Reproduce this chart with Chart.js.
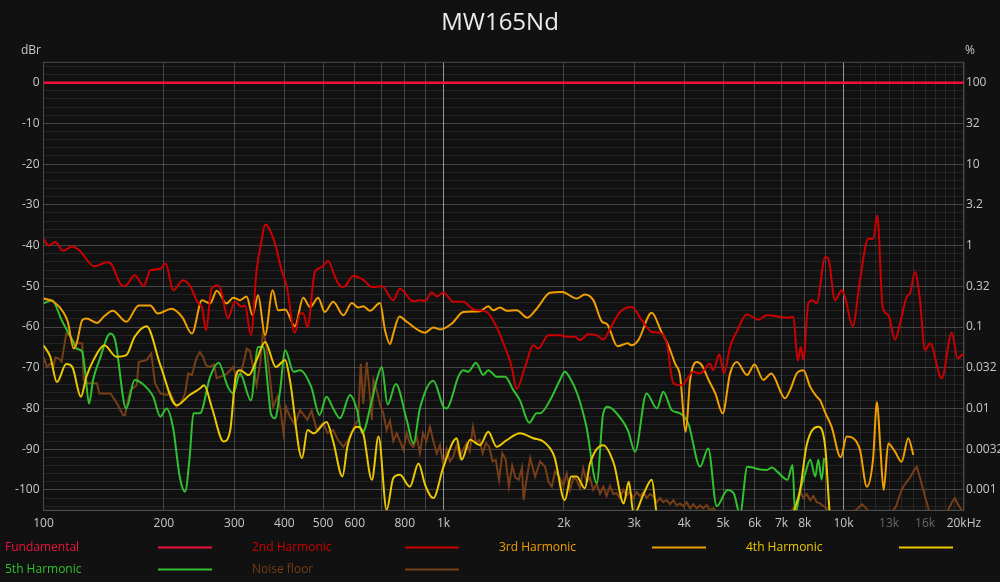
<!DOCTYPE html>
<html>
<head>
<meta charset="utf-8">
<title>MW165Nd</title>
<script src="https://cdn.jsdelivr.net/npm/chart.js@4.4.0/dist/chart.umd.min.js"></script>
<style>
  html, body { margin: 0; padding: 0; background: #111111; }
  #wrap { width: 1000px; height: 582px; }
</style>
</head>
<body>
<div id="wrap"><canvas id="chart" width="1000" height="582"></canvas></div>
<script>
// --- data (freq Hz, dBr) ---
var fundamental = [[100, 0], [20000, 0]];

var harm2 = [[100,-38.3],[103,-40],[107,-39.1],[112,-41.3],[118,-40.2],[123,-41.2],[134,-45.1],[144,-44.1],[147,-44.3],[157,-49.8],[160,-49.9],[169,-47.3],[178,-49.9],[185,-46.1],[196,-45.7],[202,-44.4],[211,-51],[223,-48.5],[232,-49.8],[244,-54.2],[249,-55.1],[255,-60.8],[263,-50.6],[274,-49.8],[279,-51.7],[289,-57.9],[301,-53.8],[313,-55],[319,-54.7],[330,-62],[341,-46.1],[351,-38.7],[358,-34.8],[365,-35.5],[379,-39.5],[394,-46.1],[406,-50.2],[425,-61.4],[438,-56.7],[446,-56.6],[457,-60],[477,-46.5],[496,-45.3],[515,-43.8],[530,-46.5],[543,-49],[562,-50.2],[595,-47.5],[630,-48.4],[662,-50.2],[701,-50],[749,-53.4],[778,-50.6],[841,-53.7],[873,-53.4],[900,-53.6],[934,-51.5],[962,-52.5],[1000,-51.5],[1058,-53.8],[1121,-53.8],[1187,-55.7],[1282,-56.3],[1345,-59.2],[1411,-63.9],[1481,-69.8],[1524,-75.2],[1599,-69.8],[1677,-64.5],[1726,-65.3],[1828,-62],[1956,-62],[2032,-62.4],[2132,-62.4],[2194,-63.2],[2301,-61.8],[2416,-62],[2509,-63.1],[2608,-60.4],[2762,-56.3],[2956,-55.1],[3131,-58.3],[3316,-61.2],[3478,-61.4],[3615,-64],[3755,-73.8],[3941,-74.3],[4213,-71],[4378,-71.4],[4638,-69],[4727,-70.6],[4892,-66.7],[5026,-71.4],[5203,-64.9],[5407,-61.2],[5730,-56.9],[6125,-58.2],[6429,-57.1],[7279,-57.7],[7492,-57.5],[7684,-68.3],[7818,-64.9],[7936,-68],[8167,-54.2],[8377,-53.4],[8570,-54.2],[9000,-42.8],[9162,-43.2],[9523,-53.4],[9897,-51],[10087,-52.6],[10544,-59.8],[10997,-48.5],[11534,-38.3],[11871,-38.3],[12148,-32.6],[12531,-55.1],[12942,-57.1],[13451,-63.1],[13843,-59.2],[14388,-52.6],[14664,-51.8],[15092,-46.5],[15533,-53.4],[15986,-65.7],[16453,-64],[17600,-72.6],[18645,-61.4],[19300,-67.7],[19750,-66.9],[20000,-66.5]];

var harm3 = [[100,-53],[106,-53.8],[112,-56.3],[115,-58.7],[119,-65.3],[121,-64],[125,-58.3],[128,-57.9],[136,-59],[142,-57.3],[149,-56],[161,-58.7],[173,-54.7],[185,-54.7],[193,-56.7],[209,-55.5],[222,-57.5],[235,-61.6],[249,-53.4],[261,-54.2],[271,-51.1],[287,-54.2],[298,-52.8],[310,-53.4],[322,-52.5],[333,-57.1],[344,-52.2],[358,-62],[374,-51],[386,-55.9],[402,-55.7],[425,-59.8],[446,-52.8],[464,-55.1],[486,-52.8],[505,-56.3],[530,-53.8],[562,-57.1],[590,-54.1],[612,-55.2],[630,-54.9],[655,-56],[694,-54.1],[714,-60.8],[735,-64.2],[749,-61.6],[776,-57.4],[809,-58.7],[900,-61.4],[943,-60.1],[980,-60.6],[1048,-59.2],[1121,-56.3],[1234,-56.1],[1294,-54.9],[1332,-55.9],[1384,-55.2],[1438,-56],[1524,-55.9],[1621,-57.7],[1710,-55.5],[1846,-51.6],[1980,-51.4],[2152,-53],[2257,-52],[2369,-53.4],[2491,-58.7],[2565,-59.3],[2721,-64.7],[2890,-64],[2946,-64.5],[3070,-63.2],[3316,-56.5],[3500,-61],[3649,-64.5],[3793,-69],[3904,-72],[4033,-85.7],[4136,-73],[4300,-68.6],[4425,-69.4],[4600,-73],[4782,-76.3],[4989,-81.2],[5203,-71.5],[5410,-68.6],[5740,-71.8],[5990,-69.2],[6305,-73],[6600,-71.4],[7142,-77.5],[7351,-75.5],[7640,-71.4],[7936,-70.6],[8257,-74.7],[8570,-77.1],[8740,-78],[9000,-81],[9340,-84.5],[9840,-92],[10186,-86.9],[10580,-87.3],[10997,-90.2],[11440,-99.2],[11850,-92.6],[12130,-78.4],[12360,-89.4],[12600,-100],[12940,-88.6],[13450,-90.6],[13970,-93.1],[14520,-87.3],[14950,-91.4]];

var harm4 = [[100,-64.5],[104,-67.3],[108,-73.5],[114,-69.1],[118,-69.8],[124,-77.1],[128,-72.2],[134,-67.7],[142,-64.5],[152,-67.3],[161,-66.9],[169,-62.4],[181,-59.8],[196,-69.4],[215,-79.2],[232,-76.7],[246,-75.1],[252,-74.3],[264,-80],[282,-88.1],[293,-85.3],[302,-72.5],[310,-70.6],[326,-71.8],[341,-68.1],[358,-63.7],[381,-69.8],[402,-68.1],[413,-73],[443,-92.2],[457,-85.3],[474,-86.1],[510,-83.3],[530,-88.1],[559,-96.7],[575,-89.4],[608,-84.5],[630,-86.1],[662,-97.5],[688,-86.9],[721,-104.9],[749,-97.1],[778,-96.3],[824,-99.2],[866,-93.5],[900,-98.8],[943,-102],[1000,-94.3],[1079,-87.3],[1110,-92.6],[1165,-87.7],[1234,-89],[1294,-85.7],[1358,-89.4],[1438,-87.8],[1553,-86.1],[1676,-87.3],[1776,-88.1],[1893,-91.8],[2010,-102.5],[2085,-96.7],[2152,-96.7],[2257,-99.6],[2324,-93.5],[2508,-89],[2666,-93.5],[2822,-103.3],[2905,-98],[2990,-106],[3170,-100.8],[3316,-97.5],[3415,-106],[3580,-110],[7300,-110],[7480,-106],[7790,-100],[8090,-89],[8650,-84.5],[9000,-89.4],[9250,-106],[9600,-110]];

var harm5 = [[100,-54.2],[105,-53.4],[111,-58.3],[118,-63.2],[121,-65.3],[125,-66.1],[127,-70.6],[130,-78.8],[133,-73],[138,-68.1],[147,-61.6],[151,-63.2],[161,-80],[169,-73],[176,-73.8],[188,-77.1],[196,-82],[203,-80],[211,-84.9],[219,-96.7],[226,-100.4],[232,-91.8],[237,-81.2],[246,-81.2],[261,-72.2],[274,-68.8],[289,-74.7],[298,-76.3],[310,-71.4],[330,-78],[344,-64.9],[354,-64.9],[364,-74.7],[370,-81.2],[379,-82.4],[390,-76],[402,-65.7],[422,-71],[438,-70.6],[467,-74.7],[490,-81.6],[510,-77.1],[530,-80],[551,-82.4],[584,-76.7],[608,-80.4],[626,-86.1],[662,-78],[681,-73],[701,-69.8],[725,-79],[760,-74],[809,-82.8],[841,-88.6],[873,-80],[943,-73.2],[1000,-79.6],[1019,-80],[1038,-78.7],[1089,-72.2],[1121,-70.6],[1153,-71],[1206,-68.8],[1257,-71.8],[1294,-70.6],[1358,-72.2],[1425,-72.2],[1495,-75.5],[1553,-78],[1638,-83.5],[1710,-81.2],[1743,-81.2],[1846,-78],[1955,-73],[2010,-71],[2071,-72.5],[2166,-76.7],[2277,-84.5],[2416,-98.3],[2508,-81.2],[2575,-79.6],[2710,-81.2],[2890,-85.3],[3012,-90.6],[3218,-76.3],[3415,-80],[3545,-75.9],[3720,-80.4],[3904,-81.2],[4094,-83.7],[4381,-94.3],[4590,-89.8],[4820,-104],[5130,-100],[5325,-101],[5510,-106],[5750,-94.3],[5980,-94.6],[6190,-95],[6430,-95.1],[6630,-94.5],[6830,-95.5],[7240,-97.5],[7460,-93.9],[7570,-106],[7818,-99.6],[8020,-96],[8257,-92.6],[8500,-96.7],[8650,-92.6],[8820,-97.5],[8940,-92.2]];

var noiseFloor = [[100,-67.3],[102,-69.8],[104,-69],[106,-69.6],[107,-67.5],[109,-67.7],[111,-68.5],[114,-61.6],[116,-62],[120,-64],[125,-64],[126,-73],[129,-73.8],[136,-73.8],[138,-76.3],[147,-76.3],[152,-78.4],[158,-81.6],[160,-81.6],[161,-80],[165,-75.5],[171,-74.3],[173,-68.6],[181,-68.1],[186,-66.5],[190,-73.8],[196,-76.3],[203,-76.7],[207,-76],[215,-79.6],[220,-78.8],[226,-76.3],[230,-71.4],[235,-71.8],[241,-67.7],[246,-66.1],[251,-67.5],[255,-69.4],[260,-69.8],[267,-69.2],[271,-72.6],[287,-71.5],[298,-69.8],[302,-71.5],[310,-72],[319,-67.3],[322,-65.3],[328,-65.8],[335,-70.2],[341,-74.3],[348,-69],[354,-60.8],[361,-64.9],[368,-72.2],[375,-79.6],[385,-77],[391,-80],[398,-86.1],[404,-79.6],[413,-82],[425,-84],[438,-80.4],[457,-82.8],[468,-80.5],[482,-85.3],[500,-83.5],[513,-86],[530,-85.3],[543,-87.5],[562,-89.4],[584,-87],[601,-84],[612,-82.8],[621,-69],[630,-78.8],[643,-68.6],[652,-74.7],[662,-82.8],[668,-73],[681,-75.5],[694,-79],[707,-81.2],[721,-85.3],[735,-83],[749,-88],[764,-86.1],[778,-88],[794,-90.2],[809,-86],[824,-88.5],[841,-89.4],[857,-87],[873,-91],[889,-86],[906,-88],[925,-84.5],[943,-88],[962,-91],[980,-89],[1000,-94.3],[1019,-90],[1038,-93],[1058,-91.8],[1078,-89],[1099,-92],[1120,-90],[1141,-88.6],[1163,-90.5],[1185,-84.5],[1207,-88.5],[1230,-87.7],[1253,-91],[1277,-88.5],[1301,-89.4],[1326,-93],[1351,-92.6],[1377,-97.5],[1403,-91],[1430,-92.5],[1457,-99.2],[1485,-94],[1513,-97],[1542,-97.5],[1571,-94.5],[1586,-102.5],[1616,-97],[1647,-92.2],[1695,-96.7],[1744,-93],[1795,-94.3],[1830,-98],[1865,-99.2],[1901,-95.5],[1956,-97],[1994,-99],[2032,-96],[2071,-100],[2111,-97],[2151,-97.5],[2194,-99.5],[2236,-94.7],[2279,-98],[2323,-97],[2368,-100],[2416,-98.5],[2462,-101],[2509,-99.2],[2557,-101.5],[2608,-99],[2658,-101],[2708,-100.8],[2762,-102],[2815,-100],[2869,-101.5],[2925,-100.5],[2981,-102],[3042,-100.5],[3101,-101.5],[3160,-100.5],[3221,-102],[3283,-101],[3346,-101.6],[3411,-103],[3478,-102],[3545,-103],[3615,-102.5],[3684,-103.5],[3755,-102.5],[3828,-103.8],[3903,-103.3],[3978,-104],[4056,-103],[4134,-104.5],[4213,-103.5],[4295,-104.5],[4378,-103.8],[4461,-104.5],[4548,-103.7],[4638,-105],[4727,-104.5],[4912,-106],[5203,-107],[5510,-107],[5840,-106.5],[6186,-107],[6552,-106.5],[6940,-106],[7351,-105.5],[7566,-104],[7818,-100.4],[7936,-102],[8090,-101],[8257,-102.5],[8415,-101.5],[8570,-103],[8740,-103.3],[8910,-104],[9083,-104.5],[9250,-105.5],[9800,-107],[10380,-106],[10870,-104.5],[11130,-103.5],[11390,-104.5],[11660,-106],[12350,-107],[13070,-106],[13540,-104],[13843,-101],[14109,-99.2],[14388,-98],[14664,-97],[14950,-95.5],[15250,-94.3],[15533,-97],[15830,-100],[16140,-103],[16453,-106],[17420,-107],[18240,-105],[18670,-103],[18990,-102],[19320,-103.5],[19770,-105]];

// axis ticks / labels
var freqTicks  = [100,200,300,400,500,600,700,800,900,1000,2000,3000,4000,5000,6000,7000,8000,9000,10000,11000,12000,13000,14000,15000,16000,17000,18000,19000,20000];
var freqLabels = ['100','200','300','400','500','600','','800','','1k','2k','3k','4k','5k','6k','7k','8k','','10k','','','13k','','','16k','','','','20kHz'];
var dimLabels  = ['13k','16k'];
var dbTicks    = [0,-10,-20,-30,-40,-50,-60,-70,-80,-90,-100];
var pctLabels  = ['100','32','10','3.2','1','0.32','0.1','0.032','0.01','0.0032','0.001'];

var seriesNames  = ['Fundamental','2nd Harmonic','3rd Harmonic','4th Harmonic','5th Harmonic','Noise floor'];
var seriesColors = ['#f0103c','#cc0000','#f0a000','#ecc800','#30c030','#763e18'];

function pts(arr) {
  return arr.map(function (p) { return {x: p[0], y: p[1]}; });
}

var seriesData = [fundamental, harm2, harm3, harm4, harm5, noiseFloor];
var widths = [2.5, 2, 2, 2, 2, 2];

var datasets = seriesData.map(function (d, i) {
  return {
    label: seriesNames[i],
    data: pts(d),
    borderColor: seriesColors[i],
    backgroundColor: seriesColors[i],
    borderWidth: widths[i],
    pointRadius: 0,
    fill: false,
    cubicInterpolationMode: i === 5 ? 'default' : 'monotone',
    tension: 0
  };
});

// background, frame, title, units and legend
var decoPlugin = {
  id: 'deco',
  beforeDraw: function (chart) {
    var c = chart.ctx;
    c.save();
    c.fillStyle = '#111111';
    c.fillRect(0, 0, chart.width, chart.height);
    c.restore();
  },
  beforeDatasetsDraw: function (chart) {
    var a = chart.chartArea, c = chart.ctx;
    c.save();
    c.strokeStyle = '#4a4a4a';
    c.lineWidth = 1;
    c.strokeRect(a.left, a.top, a.right - a.left, a.bottom - a.top);
    c.restore();
  },
  afterDraw: function (chart) {
    var c = chart.ctx;
    c.save();
    c.textBaseline = 'middle';
    c.font = "24px 'Open Sans'";
    c.fillStyle = '#ececec';
    c.textAlign = 'center';
    c.fillText('MW165Nd', 500, 23);

    c.font = "12px 'Open Sans'";
    c.fillStyle = '#c8c8c8';
    c.textAlign = 'right';
    c.fillText('dBr', 41, 51);
    c.textAlign = 'left';
    c.fillText('%', 965, 51);

    // legend: text then a line sample, 4 per row
    for (var i = 0; i < seriesNames.length; i++) {
      var col = i % 4, row = Math.floor(i / 4);
      var x = 5 + col * 247;
      var y = 547.5 + row * 22;
      c.fillStyle = seriesColors[i];
      c.textAlign = 'left';
      c.fillText(seriesNames[i], x, y);
      c.strokeStyle = seriesColors[i];
      c.lineWidth = 2;
      c.beginPath();
      c.moveTo(x + 153, y);
      c.lineTo(x + 207, y);
      c.stroke();
    }
    c.restore();
  }
};

Chart.defaults.font.family = "'Open Sans', sans-serif";
Chart.defaults.font.size = 12;

new Chart(document.getElementById('chart'), {
  type: 'line',
  data: { datasets: datasets },
  options: {
    responsive: false,
    animation: false,
    events: [],
    layout: { padding: { top: 62.3, left: 0, right: 0, bottom: 51.7 } },
    plugins: {
      legend: { display: false },
      tooltip: { enabled: false },
      title: { display: false }
    },
    scales: {
      x: {
        type: 'logarithmic',
        min: 100,
        max: 20000,
        afterBuildTicks: function (scale) {
          scale.ticks = freqTicks.map(function (v) { return {value: v}; });
        },
        afterFit: function (scale) { scale.height = 20; },
        grid: {
          drawTicks: false,
          color: function (ctx) {
            var v = ctx.tick ? ctx.tick.value : 0;
            if (v === 1000 || v === 10000) return 'rgba(255,255,255,0.55)';
            if (v > 10000) return 'rgba(255,255,255,0.09)';
            return 'rgba(255,255,255,0.22)';
          }
        },
        border: { color: '#4a4a4a' },
        ticks: {
          autoSkip: false,
          maxRotation: 0,
          padding: 6,
          color: function (ctx) {
            var i = freqTicks.indexOf(ctx.tick.value);
            return dimLabels.indexOf(freqLabels[i]) >= 0 ? '#6a6a6a' : '#c8c8c8';
          },
          callback: function (value) {
            var i = freqTicks.indexOf(value);
            return i >= 0 ? freqLabels[i] : '';
          }
        }
      },
      y: {
        type: 'linear',
        position: 'left',
        min: -105,
        max: 5,
        afterBuildTicks: function (scale) {
          var t = [];
          for (var v = -104; v <= 4; v += 2) t.push({value: v});
          scale.ticks = t;
        },
        afterFit: function (scale) { scale.width = 43.5; },
        grid: {
          drawTicks: false,
          color: function (ctx) {
            var v = ctx.tick ? ctx.tick.value : 1;
            return v % 10 === 0 ? 'rgba(255,255,255,0.22)' : 'rgba(255,255,255,0.08)';
          }
        },
        border: { color: '#4a4a4a' },
        ticks: {
          autoSkip: false,
          padding: 4,
          color: '#c8c8c8',
          callback: function (value) { return value % 10 === 0 ? String(value) : ''; }
        }
      },
      y2: {
        type: 'linear',
        position: 'right',
        min: -105,
        max: 5,
        afterBuildTicks: function (scale) {
          scale.ticks = dbTicks.map(function (v) { return {value: v}; });
        },
        afterFit: function (scale) { scale.width = 36.1; },
        grid: { drawOnChartArea: false, drawTicks: false },
        border: { color: '#4a4a4a' },
        ticks: {
          autoSkip: false,
          padding: 2,
          color: '#c8c8c8',
          callback: function (value) {
            var i = dbTicks.indexOf(value);
            return i >= 0 ? pctLabels[i] : '';
          }
        }
      }
    }
  },
  plugins: [decoPlugin]
});
</script>
</body>
</html>
